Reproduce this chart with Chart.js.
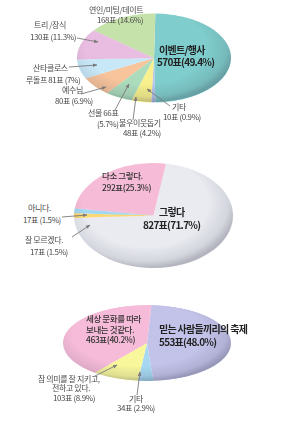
<!DOCTYPE html>
<html><head><meta charset="utf-8">
<script src="https://cdn.jsdelivr.net/npm/chart.js@4"></script>
<style>
html,body{margin:0;padding:0;background:#fff;width:283px;height:425px;overflow:hidden;}
#root{position:relative;width:283px;height:425px;}
.pie{position:absolute;transform-origin:50% 50%;}
.shade{position:absolute;border-radius:50%;pointer-events:none;}
.t{position:absolute;white-space:nowrap;font-family:"Noto Sans CJK KR","Noto Sans",sans-serif;color:#4a4a4a;font-size:8px;line-height:10px;letter-spacing:-0.4px;transform:translateY(-50%);}
.b{color:#222;font-weight:600;font-size:10px;line-height:12px;letter-spacing:-0.7px;}
.m{color:#333;font-weight:500;font-size:8.5px;letter-spacing:-0.4px;}
svg{position:absolute;left:0;top:0;}
</style></head>
<body><div id="root"></div>
<script>
// ---- data ----
const c1Categories = ['이벤트/행사','기타','불우이웃돕기','선물','예수님','산타클로스 루돌프','트리 /장식','연인/미팅/데이트'];
const c1Values = [570,10,48,66,80,81,130,168];
const c1Percents = ['49.4','0.9','4.2','5.7','6.9','7','11.3','14.6'];
const c1Colors = ['#7fcdcc','#b4c2ea','#f7f08c','#acdcbc','#f8c49c','#c8e8f8','#e9bde2','#c6e2ab'];

const c2Categories = ['그렇다','잘 모르겠다.','아니다.','다소 그렇다.'];
const c2Values = [827,17,17,292];
const c2Percents = ['71.7','1.5','1.5','25.3'];
const c2Colors = ['#e9ebf1','#fbd874','#a2d8f2','#f6bcd7'];

const c3Categories = ['믿는 사람들끼리의 축제','기타','참 의미를 잘 지키고, 전하고 있다.','세상 문화를 따라 보내는 것같다.'];
const c3Values = [553,34,103,463];
const c3Percents = ['48.0','2.9','8.9','40.2'];
const c3Colors = ['#c3c3ea','#a6d8f2','#f8f79c','#f6bbd9'];

// ---- layout (positions only) ----
const pies = [
  {cx:154, cy:57.5, rx:77, ry:44.5, rot:1, cats:c1Categories, vals:c1Values, cols:c1Colors},
  {cx:153.5, cy:215.5, rx:79.5, ry:52.5, rot:9, cats:c2Categories, vals:c2Values, cols:c2Colors},
  {cx:147, cy:342.5, rx:84, ry:38, rot:3, cats:c3Categories, vals:c3Values, cols:c3Colors}
];
const root = document.getElementById('root');

pies.forEach((p,i)=>{
  const d = 2*p.rx;
  const cv = document.createElement('canvas');
  cv.width = d; cv.height = d;
  cv.className = 'pie';
  cv.style.left = (p.cx - p.rx) + 'px';
  cv.style.top = (p.cy - p.rx) + 'px';
  cv.style.width = d + 'px'; cv.style.height = d + 'px';
  cv.style.transform = 'scaleY(' + (p.ry/p.rx) + ')';
  root.appendChild(cv);
  new Chart(cv, {
    type:'pie',
    data:{labels:p.cats, datasets:[{data:p.vals, backgroundColor:p.cols, borderWidth:0}]},
    options:{responsive:false, animation:false, rotation:p.rot,
      layout:{padding:0},
      plugins:{legend:{display:false}, tooltip:{enabled:false}}}
  });
  const sh = document.createElement('div');
  sh.className = 'shade';
  sh.style.left = (p.cx - p.rx) + 'px';
  sh.style.top = (p.cy - p.ry) + 'px';
  sh.style.width = d + 'px';
  sh.style.height = (2*p.ry) + 'px';
  sh.style.background = 'radial-gradient(ellipse 58% 62% at 45% 38%, rgba(255,255,255,0.0) 68%, rgba(60,60,80,0.12) 90%, rgba(40,40,60,0.28) 100%)';
  root.appendChild(sh);
});

function amt(v,p,sp){ return v + '표' + (sp?' ':'') + '(' + p + '%)'; }

const texts = [
  // chart 1
  {s:c1Categories[7], x:89, y:10},
  {s:amt(c1Values[7],c1Percents[7],1), x:97, y:20},
  {s:c1Categories[6], x:34, y:25},
  {s:amt(c1Values[6],c1Percents[6],1), x:30, y:37},
  {s:'산타클로스', x:33, y:68},
  {s:'루돌프  ' + amt(c1Values[5],c1Percents[5],1), x:26, y:80},
  {s:c1Categories[4], x:62, y:90},
  {s:amt(c1Values[4],c1Percents[4],1), x:55, y:101},
  {s:c1Categories[3] + '   ' + c1Values[3] + '표', x:88, y:113},
  {s:'(' + c1Percents[3] + '%)', x:97, y:124},
  {s:c1Categories[2], x:119, y:123},
  {s:amt(c1Values[2],c1Percents[2],1), x:123, y:133},
  {s:c1Categories[1], x:172, y:107},
  {s:amt(c1Values[1],c1Percents[1],1), x:163, y:117},
  {s:c1Categories[0], x:159, y:50, c:'b'},
  {s:amt(c1Values[0],c1Percents[0],0), x:157, y:62, c:'b'},
  // chart 2
  {s:c2Categories[3], x:102, y:175, c:'m'},
  {s:amt(c2Values[3],c2Percents[3],0), x:102, y:187, c:'m'},
  {s:c2Categories[0], x:159, y:212, c:'b'},
  {s:amt(c2Values[0],c2Percents[0],0), x:143, y:225, c:'b'},
  {s:c2Categories[2], x:28, y:208},
  {s:amt(c2Values[2],c2Percents[2],1), x:23, y:220},
  {s:c2Categories[1], x:25, y:240},
  {s:amt(c2Values[1],c2Percents[1],1), x:30, y:252},
  // chart 3
  {s:'세상 문화를 따라', x:86, y:318, c:'m'},
  {s:'보내는 것같다.', x:86, y:329, c:'m'},
  {s:amt(c3Values[3],c3Percents[3],0), x:86, y:339, c:'m'},
  {s:c3Categories[0], x:159, y:329, c:'b'},
  {s:amt(c3Values[0],c3Percents[0],0), x:159, y:342, c:'b'},
  {s:'참 의미를 잘 지키고,', x:38, y:379},
  {s:'전하고 있다.', x:52, y:388},
  {s:amt(c3Values[2],c3Percents[2],1), x:53, y:398},
  {s:c3Categories[1], x:129, y:399},
  {s:amt(c3Values[1],c3Percents[1],1), x:117, y:408}
];
texts.forEach(t=>{
  const el = document.createElement('div');
  el.className = 't' + (t.c ? ' ' + t.c : '');
  el.textContent = t.s;
  el.style.left = t.x + 'px';
  el.style.top = t.y + 'px';
  root.appendChild(el);
});

const arrows = [
  [77,38,98,42],[69,67,97,65],[81,94,106,87],[115,110,129,84],[133,120,136,97],[170,106,147,89],
  [62,217,87,215],[72,237,90,225],
  [93,377,117,365],[137,395,140,372]
];
const NS = 'http://www.w3.org/2000/svg';
const svg = document.createElementNS(NS,'svg');
svg.setAttribute('width','283'); svg.setAttribute('height','425');
svg.innerHTML = '<defs><marker id="ah" viewBox="0 0 10 10" refX="9" refY="5" markerWidth="5" markerHeight="5" orient="auto"><path d="M0,1 L10,5 L0,9 z" fill="#7a7a7a"/></marker></defs>';
arrows.forEach(a=>{
  const l = document.createElementNS(NS,'line');
  l.setAttribute('x1',a[0]); l.setAttribute('y1',a[1]);
  l.setAttribute('x2',a[2]); l.setAttribute('y2',a[3]);
  l.setAttribute('stroke','#7a7a7a'); l.setAttribute('stroke-width','0.9');
  l.setAttribute('marker-end','url(#ah)');
  svg.appendChild(l);
});
root.appendChild(svg);
</script>
</body></html>
